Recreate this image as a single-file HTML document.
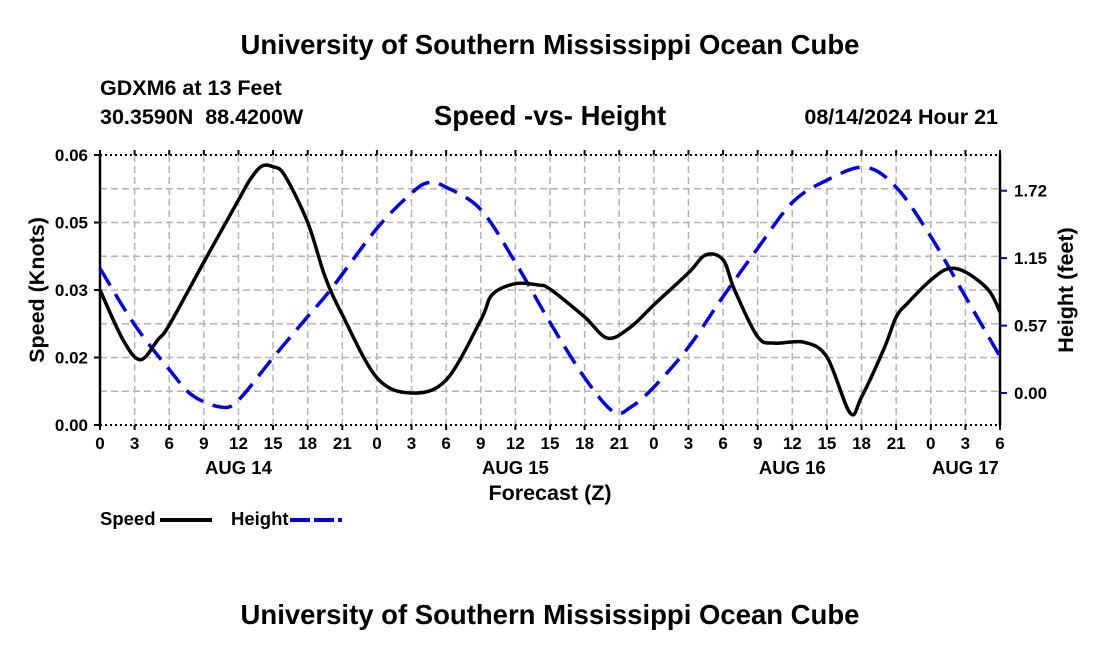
<!DOCTYPE html>
<html><head><meta charset="utf-8"><style>
body{margin:0;background:#fff;}
svg{display:block;font-family:"Liberation Sans",Arial,sans-serif;font-weight:bold;}
</style></head><body>
<svg id="chart" width="1100" height="650" viewBox="0 0 1100 650">
<text x="550" y="54" font-size="27.5" text-anchor="middle">University of Southern Mississippi Ocean Cube</text>
<text x="100" y="95" font-size="21.5">GDXM6 at 13 Feet</text>
<text x="100" y="124" font-size="21.5" xml:space="preserve">30.3590N  88.4200W</text>
<text x="550" y="125" font-size="27.5" text-anchor="middle">Speed -vs- Height</text>
<text x="998" y="124" font-size="21.5" text-anchor="end">08/14/2024 Hour 21</text>
<g id="grid"></g>
<g id="axes"></g>
<g id="series"></g>
<text transform="translate(44,290) rotate(-90)" font-size="21.5" text-anchor="middle">Speed (Knots)</text>
<text transform="translate(1073,290) rotate(-90)" font-size="21.5" text-anchor="middle">Height (feet)</text>
<text x="550" y="500" font-size="21.5" text-anchor="middle">Forecast (Z)</text>
<g>
<text x="100" y="525" font-size="18.5">Speed</text>
<line x1="160" y1="520" x2="212" y2="520" stroke="#000" stroke-width="4"/>
<text x="231" y="525" font-size="18.5">Height</text>
<line x1="290" y1="520" x2="342" y2="520" stroke="#0000dd" stroke-width="4" stroke-dasharray="20,4"/>
</g>
<text x="550" y="624" font-size="27.5" text-anchor="middle">University of Southern Mississippi Ocean Cube</text>
</svg>
<script>
const speedHours=[0,2,3.5,5,6,9,12,13,14,15,16,18,19.5,21,24,27,30,33,34,36,38,39,42,44,46,48,51,52.5,54,55,57,58.5,61,63,65,66,68,69,70,72,73.5,75,77,78];
const speedValues=[.0300,.0189,.0145,.0189,.0222,.0362,.0500,.0545,.0575,.0574,.0555,.0450,.0330,.0245,.0105,.0071,.0100,.0233,.0290,.0314,.0311,.0302,.0240,.0193,.0218,.0267,.0338,.0378,.0367,.0300,.0196,.0182,.0184,.0151,.0027,.0062,.0173,.0240,.0271,.0322,.0347,.0340,.0300,.0251];
const heightHours=[0,3,6,8,10.5,12,15,18,20,24,27,28.5,30,33,36,39,42,44.5,46,48,51,54,57,60,63,66.3,69,72,75,78];
const heightValues=[1.06,.58,.20,-.02,-.12,-.06,.30,.65,.88,1.40,1.70,1.79,1.75,1.56,1.11,.60,.13,-.16,-.12,.05,.39,.82,1.23,1.62,1.81,1.92,1.75,1.33,.82,.31];
const xTickLabels=["0","3","6","9","12","15","18","21","0","3","6","9","12","15","18","21","0","3","6","9","12","15","18","21","0","3","6"];
const dayLabels=["AUG 14","AUG 15","AUG 16","AUG 17"];
const dayLabelHours=[12,36,60,75];
const speedTicks=[0,0.015,0.03,0.045,0.06];
const speedTickLabels=["0.00","0.02","0.03","0.05","0.06"];
const heightTicks=[0,0.573,1.147,1.72];
const heightTickLabels=["0.00","0.57","1.15","1.72"];

const L=100,R=1000,T=155,B=425,HMAX=78;
const NS="http://www.w3.org/2000/svg";
function xS(h){return L+h/HMAX*(R-L);}
function yS(s){return B-s/0.06*(B-T);}
function yH(h){return 393-h*117.6;}
function mk(tag,attrs,parent){const e=document.createElementNS(NS,tag);for(const k in attrs)e.setAttribute(k,attrs[k]);parent.appendChild(e);return e;}
const grid=document.getElementById('grid'),axes=document.getElementById('axes'),series=document.getElementById('series');
for(let i=1;i<26;i++){
 const l=mk('line',{x1:xS(i*3),x2:xS(i*3),y1:T,y2:B,stroke:'#b4b4b4','stroke-width':1.5,'stroke-dasharray':'7,4'},grid);
 
 
}
for(let i=1;i<8;i++){
 const l=mk('line',{x1:L,x2:R,y1:yS(i*0.0075),y2:yS(i*0.0075),stroke:'#b4b4b4','stroke-width':1.5,'stroke-dasharray':'7,4'},grid);
 
 
}
mk('line',{x1:L,x2:R,y1:T,y2:T,stroke:'#000','stroke-width':2,'stroke-dasharray':'2,3'},axes);
mk('line',{x1:L,x2:R,y1:B,y2:B,stroke:'#000','stroke-width':2,'stroke-dasharray':'2,3'},axes);
mk('line',{x1:L,x2:L,y1:T,y2:B,stroke:'#000','stroke-width':2.5},axes);
mk('line',{x1:R,x2:R,y1:T,y2:B,stroke:'#000','stroke-width':2.5},axes);
xTickLabels.forEach((t,i)=>{
 const x=xS(i*3);
 mk('line',{x1:x,x2:x,y1:B,y2:B+5,stroke:'#000','stroke-width':2},axes);
 mk('line',{x1:x,x2:x,y1:T,y2:T-5,stroke:'#000','stroke-width':2},axes);
 const e=mk('text',{x:x,y:B+24,'font-size':17,'text-anchor':'middle'},axes);e.textContent=t;
 
 
});
dayLabels.forEach((t,i)=>{
 const e=mk('text',{x:xS(dayLabelHours[i]),y:B+49,'font-size':18.5,'text-anchor':'middle'},axes);e.textContent=t;
 
 
});
speedTicks.forEach((v,i)=>{
 const y=yS(v);
 mk('line',{x1:L-6,x2:L,y1:y,y2:y,stroke:'#000','stroke-width':2},axes);
 const e=mk('text',{x:L-12,y:y+6,'font-size':17,'text-anchor':'end'},axes);e.textContent=speedTickLabels[i];
 
 
});
heightTicks.forEach((v,i)=>{
 const y=yH(v);
 mk('line',{x1:R,x2:R+7,y1:y,y2:y,stroke:'#0000cc','stroke-width':2},axes);
 const e=mk('text',{x:R+14,y:y+6,'font-size':17},axes);e.textContent=heightTickLabels[i];
 
 
});
function smooth(pts){
 let d='M'+pts[0][0]+','+pts[0][1];
 for(let i=0;i<pts.length-1;i++){
  const p0=pts[Math.max(0,i-1)],p1=pts[i],p2=pts[i+1],p3=pts[Math.min(pts.length-1,i+2)];
  const c1x=p1[0]+(p2[0]-p0[0])/6,c1y=p1[1]+(p2[1]-p0[1])/6,c2x=p2[0]-(p3[0]-p1[0])/6,c2y=p2[1]-(p3[1]-p1[1])/6;
  d+=' C'+c1x+','+c1y+' '+c2x+','+c2y+' '+p2[0]+','+p2[1];
 }
 return d;
}
const hp=mk('path',{d:smooth(heightHours.map((h,i)=>[xS(h),yH(heightValues[i])])),fill:'none',stroke:'#0000dd','stroke-width':3.5,'stroke-dasharray':'20,10'},series);


const sp=mk('path',{d:smooth(speedHours.map((h,i)=>[xS(h),yS(speedValues[i])])),fill:'none',stroke:'#000','stroke-width':3.5},series);


</script>
</body></html>
